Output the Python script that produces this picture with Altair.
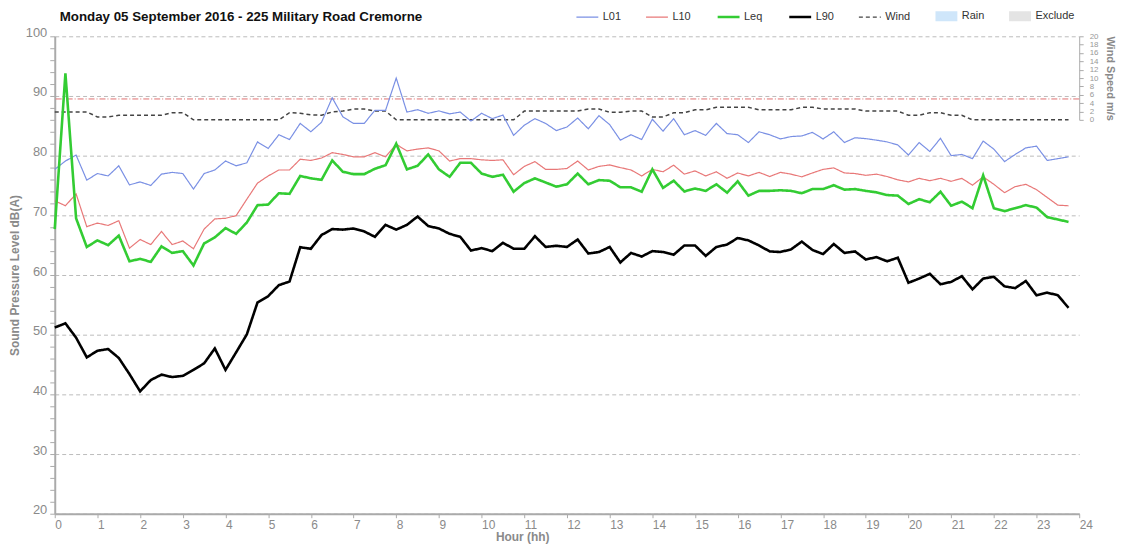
import altair as alt
import pandas as pd

# 15-minute intervals, hour 0.00 .. 23.75
hours = [i * 0.25 for i in range(96)]

L01 = [77.7, 79.1, 80.1, 75.9, 77.0, 76.6, 78.3, 75.1, 75.6, 75.0, 76.9, 77.2,
       77.0, 74.4, 77.0, 77.6, 79.1, 78.3, 78.8, 82.3, 81.2, 83.5, 82.7, 85.4,
       84.0, 85.6, 89.7, 86.5, 85.4, 85.4, 87.6, 87.6, 93.0, 87.3, 87.7, 87.1,
       87.5, 87.0, 87.3, 85.8, 87.1, 86.2, 86.8, 83.4, 85.1, 86.2, 85.4, 84.2,
       84.8, 86.3, 84.5, 86.7, 85.2, 82.6, 83.5, 82.7, 86.1, 84.1, 86.2, 83.5,
       84.2, 83.4, 85.4, 83.7, 83.5, 82.2, 84.0, 83.5, 82.8, 83.2, 83.3, 83.9,
       82.8, 84.0, 82.2, 83.0, 82.85, 82.6, 82.3, 81.8, 80.1, 82.2, 80.7, 82.9,
       80.0, 80.2, 79.5, 82.45, 81.1, 79.0, 80.2, 81.3, 81.6, 79.2, 79.5, 79.8]

L10 = [72.45, 71.6, 73.6, 68.1, 68.7, 68.3, 69.1, 64.5, 65.95, 65.1, 67.3, 65.1,
       65.7, 64.4, 67.7, 69.4, 69.5, 69.95, 72.7, 75.4, 76.6, 77.6, 77.6, 79.4,
       79.2, 79.6, 80.5, 80.2, 79.8, 79.8, 80.5, 79.8, 81.9, 80.8, 81.1, 81.3,
       80.8, 79.1, 79.5, 79.5, 79.3, 79.2, 79.3, 76.8, 78.2, 79.0, 77.7, 77.7,
       77.85, 79.1, 77.6, 78.2, 78.45, 78.0, 77.6, 76.6, 77.7, 77.3, 78.4, 76.9,
       77.45, 76.6, 77.3, 76.2, 77.1, 76.6, 77.2, 76.5, 77.2, 76.9, 76.45, 77.1,
       77.7, 77.95, 77.1, 77.0, 76.7, 76.9, 76.5, 75.95, 75.6, 76.2, 75.8, 76.2,
       75.7, 76.2, 75.05, 76.45, 75.2, 73.8, 74.8, 75.2, 74.3, 73.0, 71.7, 71.6]

Leq = [67.7, 93.8, 69.5, 64.7, 65.8, 65.0, 66.6, 62.3, 62.7, 62.2, 64.8, 63.7,
       64.0, 61.6, 65.3, 66.3, 67.85, 66.9, 68.8, 71.7, 71.8, 73.7, 73.6, 76.6,
       76.2, 75.95, 79.2, 77.3, 76.9, 76.9, 77.8, 78.4, 82.0, 77.7, 78.3, 80.2,
       77.7, 76.45, 78.8, 78.8, 77.0, 76.45, 76.8, 73.95, 75.4, 76.2, 75.5, 74.8,
       75.2, 77.0, 75.2, 75.9, 75.8, 74.7, 74.7, 73.95, 77.7, 74.6, 75.8, 74.0,
       74.5, 74.1, 75.2, 73.8, 75.7, 73.3, 74.1, 74.1, 74.2, 74.1, 73.7, 74.4,
       74.4, 75.05, 74.3, 74.4, 74.1, 73.85, 73.4, 73.3, 71.9, 72.7, 72.2, 73.95,
       71.6, 72.3, 71.2, 76.7, 71.2, 70.7, 71.2, 71.7, 71.3, 69.7, 69.3, 68.9]

L90 = [51.2, 51.9, 49.5, 46.2, 47.3, 47.6, 46.1, 43.4, 40.5, 42.4, 43.3, 42.9,
       43.1, 44.1, 45.2, 47.7, 44.1, 47.05, 50.05, 55.4, 56.45, 58.3, 58.9, 64.65,
       64.4, 66.7, 67.7, 67.6, 67.8, 67.3, 66.4, 68.4, 67.6, 68.4, 69.8, 68.2,
       67.8, 66.9, 66.4, 64.1, 64.5, 64.0, 65.4, 64.4, 64.4, 66.5, 64.7, 64.9,
       64.7, 65.95, 63.6, 63.85, 64.7, 62.1, 63.7, 63.1, 64.0, 63.85, 63.4, 64.95,
       64.95, 63.2, 64.7, 65.1, 66.2, 65.8, 64.95, 63.95, 63.85, 64.3, 65.6, 64.2,
       63.5, 65.2, 63.7, 63.95, 62.6, 63.0, 62.3, 62.9, 58.7, 59.4, 60.2, 58.45,
       58.85, 59.8, 57.6, 59.4, 59.7, 58.1, 57.8, 59.0, 56.6, 57.05, 56.6, 54.5]

WIND = [1.9, 1.9, 1.9, 1.9, 0.7, 0.7, 1.1, 1.1, 1.1, 1.1, 1.1, 1.7,
        1.7, 0.0, 0.0, 0.0, 0.0, 0.0, 0.0, 0.0, 0.0, 0.0, 1.7, 1.6,
        1.2, 1.1, 1.9, 2.1, 2.6, 2.6, 2.1, 2.1, 0.0, 0.0, 0.0, 0.0,
        0.0, 0.0, 0.0, 0.0, 0.0, 0.0, 0.0, 0.0, 2.1, 2.1, 2.1, 2.1,
        2.1, 2.1, 2.6, 2.6, 1.8, 1.8, 2.1, 2.1, 0.7, 0.7, 1.7, 1.7,
        2.4, 2.4, 3.0, 3.0, 3.0, 3.0, 2.4, 2.4, 2.4, 2.4, 3.0, 3.0,
        2.6, 2.6, 2.6, 2.6, 2.1, 2.1, 2.1, 2.1, 1.1, 1.1, 1.7, 1.7,
        1.1, 1.1, 0.0, 0.0, 0.0, 0.0, 0.0, 0.0, 0.0, 0.0, 0.0, 0.0]

WIND_LIMIT = [5]

SERIES = ["L01", "L10", "Leq", "L90"]
LEGEND_DOMAIN = ["L01", "L10", "Leq", "L90", "Wind", "Rain", "Exclude"]
COLORS = ["#7a90e4", "#e87878", "#33cc33", "#000000", "#444444", "#cfe6fa", "#e4e4e4"]
LINE_WIDTHS = {"L01": 1.2, "L10": 1.2, "Leq": 2.6, "L90": 2.6, "Wind": 1.5}
DASHES = [[1, 0], [1, 0], [1, 0], [1, 0], [4, 3], [1, 0], [1, 0]]

X_TICKS = list(range(0, 25))
DB_TICKS = list(range(20, 101, 2))
WIND_TICKS = list(range(0, 21))

rows = []
for name, vals in zip(SERIES, [L01, L10, Leq, L90]):
    for h, v in zip(hours, vals):
        rows.append({"hour": h, "series": name, "value": v, "w": LINE_WIDTHS[name]})
df = pd.DataFrame(rows)
wind_df = pd.DataFrame({"hour": hours, "series": ["Wind"] * len(hours), "wind": WIND,
                        "w": [LINE_WIDTHS["Wind"]] * len(hours)})
limit_df = pd.DataFrame({"limit": WIND_LIMIT})

FONT = "Liberation Sans"
GREY = "#8a8a8a"

# legend swatch for Rain / Exclude: stacked strokes forming a filled bar
SWATCH_PATH = "".join(f"M-1,{y / 10:.1f}H1" for y in range(-4, 5))
symbol_width_expr = "(datum.value == 'Leq' || datum.value == 'L90') ? 2.6 : 1.3"
symbol_shape_expr = (
    "(datum.value == 'Rain' || datum.value == 'Exclude') ? '" + SWATCH_PATH + "' : 'stroke'"
)

color_enc = alt.Color(
    "series:N",
    scale=alt.Scale(domain=LEGEND_DOMAIN, range=COLORS),
    legend=alt.Legend(
        title=None, orient="none", direction="horizontal",
        legendX=530, legendY=-26,
        symbolSize=484,
        symbolType=alt.ExprRef(expr=symbol_shape_expr),
        symbolStrokeWidth=alt.ExprRef(expr=symbol_width_expr),
        labelFont=FONT, labelFontSize=11, labelColor="#333333",
        labelOffset=10, columnPadding=21,
    ),
)
width_enc = alt.StrokeWidth("w:Q", scale=None, legend=None)
dash_enc = alt.StrokeDash("series:N", scale=alt.Scale(domain=LEGEND_DOMAIN, range=DASHES), legend=None)

x_enc = alt.X(
    "hour:Q",
    scale=alt.Scale(domain=[0, 24], nice=False, zero=False),
    axis=alt.Axis(
        values=X_TICKS, title="Hour (hh)", grid=False,
        labelAlign="left", labelFont=FONT, labelFontSize=12, labelColor=GREY,
        labelPadding=2, tickSize=4, tickColor="#aaaaaa",
        domainColor="#aaaaaa", domainWidth=2,
        titleFont=FONT, titleFontSize=12, titleFontWeight="bold", titleColor=GREY,
        titleX=470, titlePadding=1,
    ),
)

main = alt.Chart(df).mark_line().encode(
    x=x_enc,
    y=alt.Y(
        "value:Q",
        scale=alt.Scale(domain=[20, 100], nice=False, zero=False),
        axis=alt.Axis(
            orient="left", values=DB_TICKS,
            labelExpr="datum.value % 10 == 0 ? datum.label : ''",
            labelOverlap=False, labelBaseline="alphabetic",
            labelFont=FONT, labelFontSize=13, labelColor=GREY, labelPadding=3,
            tickSize=5, tickColor="#aaaaaa", domainColor="#aaaaaa", domainWidth=2,
            grid=True, gridDash=[4, 3], gridColor="#bbbbbb",
            gridOpacity={"condition": {"test": "datum.value % 10 == 0", "value": 1}, "value": 0},
            title="Sound Pressure Level dB(A)",
            titleFont=FONT, titleFontSize=12, titleFontWeight="bold", titleColor=GREY,
            titlePadding=4,
        ),
    ),
    color=color_enc,
    strokeWidth=width_enc,
    strokeDash=dash_enc,
)

wind_y_scale = alt.Scale(domain=[0, 20], range=[84, 0], nice=False, zero=False)
wind_axis = alt.Axis(
    orient="right", values=WIND_TICKS,
    labelExpr="datum.value % 2 == 0 ? datum.label : ''",
    labelOverlap=False, labelFont=FONT, labelFontSize=8, labelColor="#999999",
    labelPadding=6, tickSize=4, tickColor="#aaaaaa", domainColor="#aaaaaa",
    grid=False, title="Wind Speed m/s",
    titleFont=FONT, titleFontSize=11, titleFontWeight="bold", titleColor=GREY,
    titlePadding=7,
)

wind_line = alt.Chart(wind_df).mark_line().encode(
    x=alt.X("hour:Q"),
    y=alt.Y("wind:Q", scale=wind_y_scale, axis=wind_axis),
    color=alt.Color("series:N"),
    strokeWidth=alt.StrokeWidth("w:Q", scale=None, legend=None),
    strokeDash=alt.StrokeDash("series:N"),
)

wind_rule = alt.Chart(limit_df).mark_rule(
    color="#e07070", strokeWidth=1, strokeDash=[6, 2, 1, 2]
).encode(y=alt.Y("limit:Q"))

wind_layer = alt.layer(wind_line, wind_rule)

chart = alt.layer(wind_layer, main).resolve_scale(y="independent").properties(
    width=1030, height=480,
    padding={"left": 0, "top": 0, "right": 0, "bottom": 0},
    title=alt.TitleParams(
        "Monday 05 September 2016 - 225 Military Road Cremorne",
        anchor="start", frame="group", dx=5, dy=21, offset=8,
        font=FONT, fontSize=13.4, fontWeight="bold", color="#111111",
    ),
).configure_view(stroke=None)

chart.save("out.html", embed_options={"renderer": "svg", "actions": False})
